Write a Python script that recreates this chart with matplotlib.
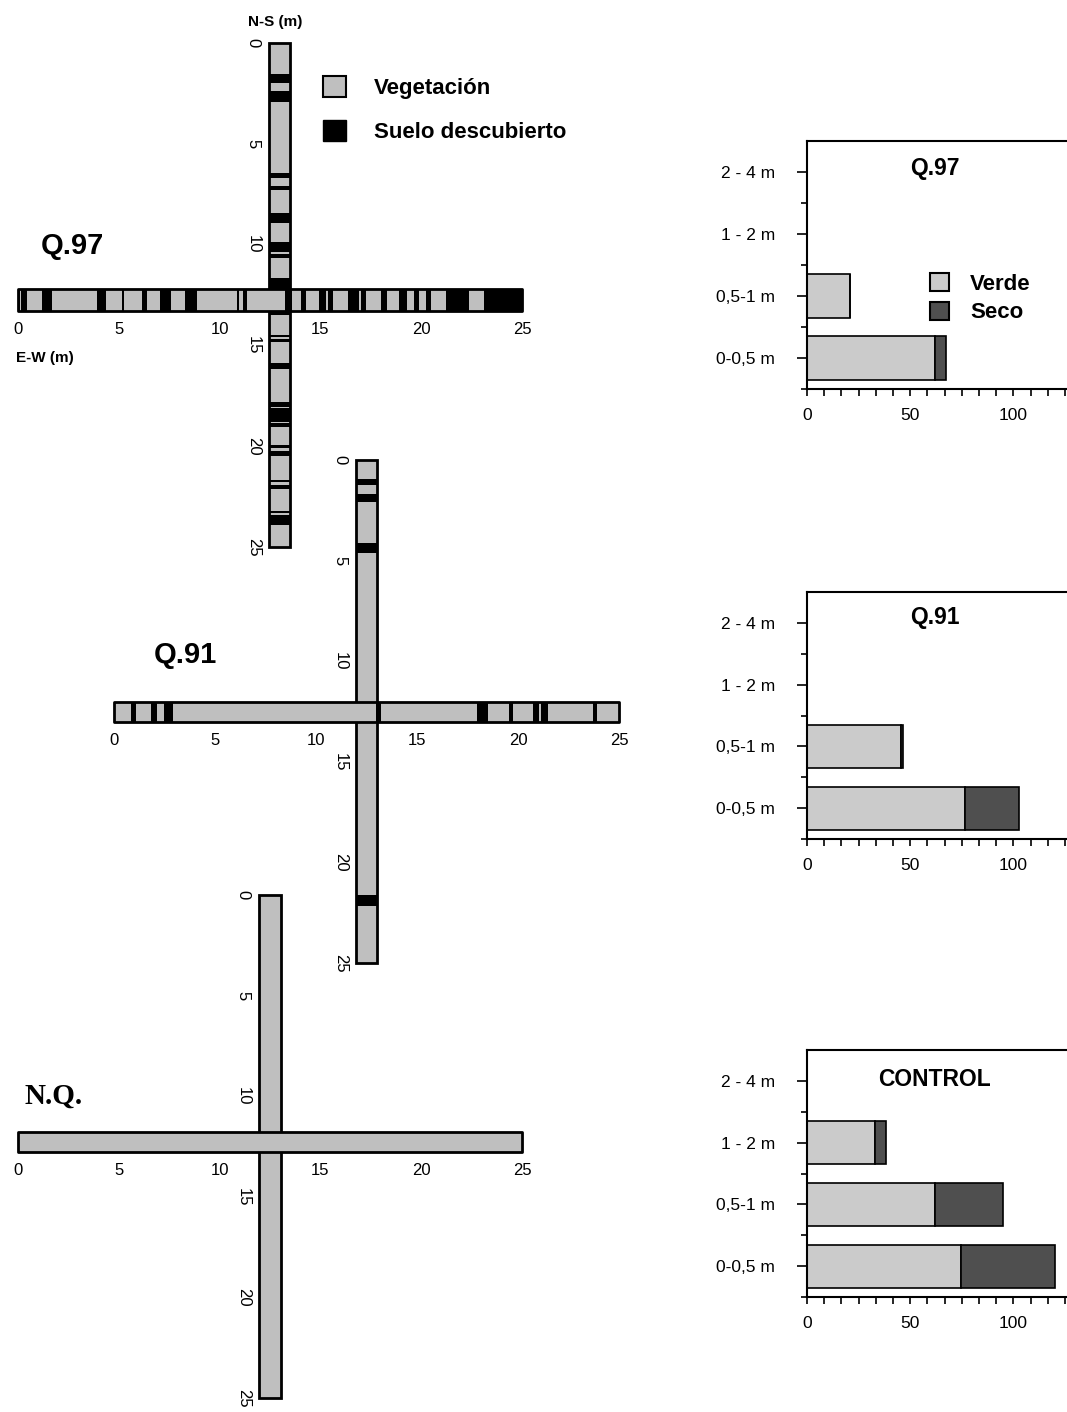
import matplotlib
matplotlib.use('Agg')
import matplotlib.pyplot as plt
from matplotlib.patches import Patch
from matplotlib.ticker import MultipleLocator, FixedLocator

plt.rcParams['font.family'] = ['Liberation Sans', 'DejaVu Sans']

W, H = 1067, 1412
VEG = '#bfbfbf'
VERDE = '#cbcbcb'
SECO = '#4f4f4f'

# bare soil stretches (from, to) in metres along each 25 m transect
q97_ew_soil = [(0.0, 0.08), (0.15, 0.46), (1.19, 1.67), (3.93, 4.37), (5.16, 5.26),
               (6.13, 6.38), (7.04, 7.57), (8.28, 8.90), (10.85, 10.98), (11.14, 11.38),
               (13.24, 13.57), (14.02, 14.29), (14.95, 15.28), (15.38, 15.61),
               (16.38, 16.90), (17.00, 17.26), (17.99, 18.32), (18.91, 19.28),
               (19.64, 19.91), (20.24, 20.47), (21.23, 22.39), (23.12, 25.0)]
q97_ns_soil = [(1.53, 2.00), (2.37, 2.91), (6.46, 6.71), (7.09, 7.29), (8.45, 8.91),
               (9.86, 10.35), (10.47, 10.68), (11.67, 13.49), (14.48, 14.57),
               (14.67, 14.82), (15.89, 16.19), (17.79, 18.04), (18.12, 18.78),
               (18.85, 19.03), (19.94, 20.11), (20.25, 20.5), (21.7, 21.8),
               (21.9, 22.1), (23.2, 23.3), (23.4, 23.9)]
q91_ew_soil = [(0.83, 1.09), (1.82, 2.14), (2.48, 2.94), (12.97, 13.2),
               (17.96, 18.53), (19.57, 19.77), (20.73, 21.05), (21.12, 21.5),
               (23.70, 23.93)]
q91_ns_soil = [(0.96, 1.24), (1.69, 2.07), (4.11, 4.64), (21.62, 22.17)]
nq_ew_soil = []
nq_ns_soil = []

strata = ['0-0,5 m', '0,5-1 m', '1 - 2 m', '2 - 4 m']
q97_verde = [62.0, 21.0, 0, 0]
q97_seco = [5.5, 0, 0, 0]
q91_verde = [76.4, 45.6, 0, 0]
q91_seco = [26.1, 0.8, 0, 0]
ctrl_verde = [74.8, 62.2, 32.9, 0]
ctrl_seco = [45.5, 32.9, 5.2, 0]

fig = plt.figure(figsize=(W / 100, H / 100), dpi=100)


def px_axes(x0, y0, x1, y1):
    return fig.add_axes([x0 / W, 1 - y1 / H, (x1 - x0) / W, (y1 - y0) / H])


def clean(ax):
    for s in ax.spines.values():
        s.set_visible(False)
    ax.patch.set_alpha(0)


def transect_ew(box, soil):
    ax = px_axes(*box)
    ax.set_xlim(0, 25)
    ax.set_ylim(0, 1)
    ax.broken_barh([(0, 25)], (0, 1), facecolors=VEG)
    ax.broken_barh([(a, b - a) for a, b in soil], (0, 1), facecolors='black')
    ax.broken_barh([(0, 25)], (0, 1), facecolors='none', edgecolors='black',
                   linewidth=2, clip_on=False)
    ax.set_xticks(range(0, 26, 5))
    ax.set_yticks([])
    ax.tick_params(length=0, labelsize=12, pad=8)
    clean(ax)
    return ax


def transect_ns(box, soil):
    ax = px_axes(*box)
    ax.set_ylim(25, 0)
    ax.set_xlim(0, 1)
    ax.bar(0.5, 25, bottom=0, width=1, color=VEG)
    ax.bar([0.5] * len(soil), [b - a for a, b in soil], bottom=[a for a, b in soil],
           width=1, color='black')
    ax.bar(0.5, 25, bottom=0, width=1, facecolor='none', edgecolor='black',
           linewidth=2, clip_on=False)
    ax.set_yticks(range(0, 26, 5))
    ax.set_xticks([])
    ax.tick_params(length=0, labelsize=12, pad=6)
    for lab in ax.get_yticklabels():
        lab.set_rotation(270)
        lab.set_va('center')
    clean(ax)
    return ax


def strata_chart(box, verde, seco, title, ty):
    ax = px_axes(*box)
    y = list(range(len(strata)))
    ax.barh(y, verde, height=0.7, color=VERDE, edgecolor='black', linewidth=1.2)
    ax.barh(y, seco, left=verde, height=0.7, color=SECO, edgecolor='black', linewidth=1.2)
    ax.set_xlim(0, 126)
    ax.set_ylim(-0.5, 3.5)
    ax.set_yticks(y)
    ax.set_yticklabels(strata)
    ax.yaxis.set_minor_locator(FixedLocator([-0.5, 0.5, 1.5, 2.5]))
    ax.set_xticks([0, 50, 100])
    ax.xaxis.set_minor_locator(MultipleLocator(50 / 6))
    ax.tick_params(axis='x', which='both', direction='out', length=5, width=1.2,
                   labelsize=12.5, pad=9)
    ax.tick_params(axis='y', which='major', direction='out', length=7, width=1.2,
                   labelsize=12.5, pad=16)
    ax.tick_params(axis='y', which='minor', direction='out', length=4, width=1.2)
    ax.spines['right'].set_visible(False)
    for s in ['left', 'bottom', 'top']:
        ax.spines[s].set_linewidth(1.5)
    ax.text(0.49, ty, title, transform=ax.transAxes, ha='center', va='center',
            fontsize=16.5, fontweight='bold')
    return ax


# Q.97 cross
transect_ns((269, 43, 290, 547), q97_ns_soil)
transect_ew((18, 289, 522, 311), q97_ew_soil)
fig.text(275 / W, 1 - 22 / H, 'N-S (m)', ha='center', va='center', fontsize=11, fontweight='bold')
fig.text(45 / W, 1 - 358 / H, 'E-W (m)', ha='center', va='center', fontsize=11, fontweight='bold')
fig.text(72 / W, 1 - 246 / H, 'Q.97', ha='center', va='center', fontsize=21, fontweight='bold')

# Q.91 cross
transect_ns((356, 460, 377, 963), q91_ns_soil)
transect_ew((114, 702, 619, 722), q91_ew_soil)
fig.text(185 / W, 1 - 655 / H, 'Q.91', ha='center', va='center', fontsize=21, fontweight='bold')

# N.Q. cross
transect_ns((259, 895, 281, 1398), nq_ns_soil)
transect_ew((18, 1132, 522, 1152), nq_ew_soil)
fig.text(54 / W, 1 - 1096 / H, 'N.Q.', ha='center', va='center', fontsize=21,
         fontweight='bold', family='Liberation Serif')

fig.legend(handles=[Patch(facecolor=VEG, edgecolor='black', linewidth=1.5),
                    Patch(facecolor='black', edgecolor='black')],
           labels=['Vegetación', 'Suelo descubierto'],
           loc='upper left', bbox_to_anchor=(323 / W, 1 - 76 / H), frameon=False,
           prop={'weight': 'bold', 'size': 16}, handlelength=1.05, handleheight=1.05,
           handletextpad=1.25, labelspacing=0.95, borderpad=0, borderaxespad=0)

# vertical structure charts
a1 = strata_chart((807, 141, 1067, 389), q97_verde, q97_seco, 'Q.97', 0.89)
strata_chart((807, 592, 1067, 839), q91_verde, q91_seco, 'Q.91', 0.895)
strata_chart((807, 1050, 1067, 1297), ctrl_verde, ctrl_seco, 'CONTROL', 0.88)

a1.legend(handles=[Patch(facecolor=VERDE, edgecolor='black', linewidth=1.5),
                   Patch(facecolor=SECO, edgecolor='black', linewidth=1.5)],
          labels=['Verde', 'Seco'], loc='upper left',
          bbox_to_anchor=(930 / W, 1 - 273 / H), bbox_transform=fig.transFigure,
          frameon=False, prop={'weight': 'bold', 'size': 16}, handlelength=0.85,
          handleheight=0.9, handletextpad=0.95, labelspacing=0.3, borderpad=0,
          borderaxespad=0)

fig.savefig('out.png', dpi=100)
